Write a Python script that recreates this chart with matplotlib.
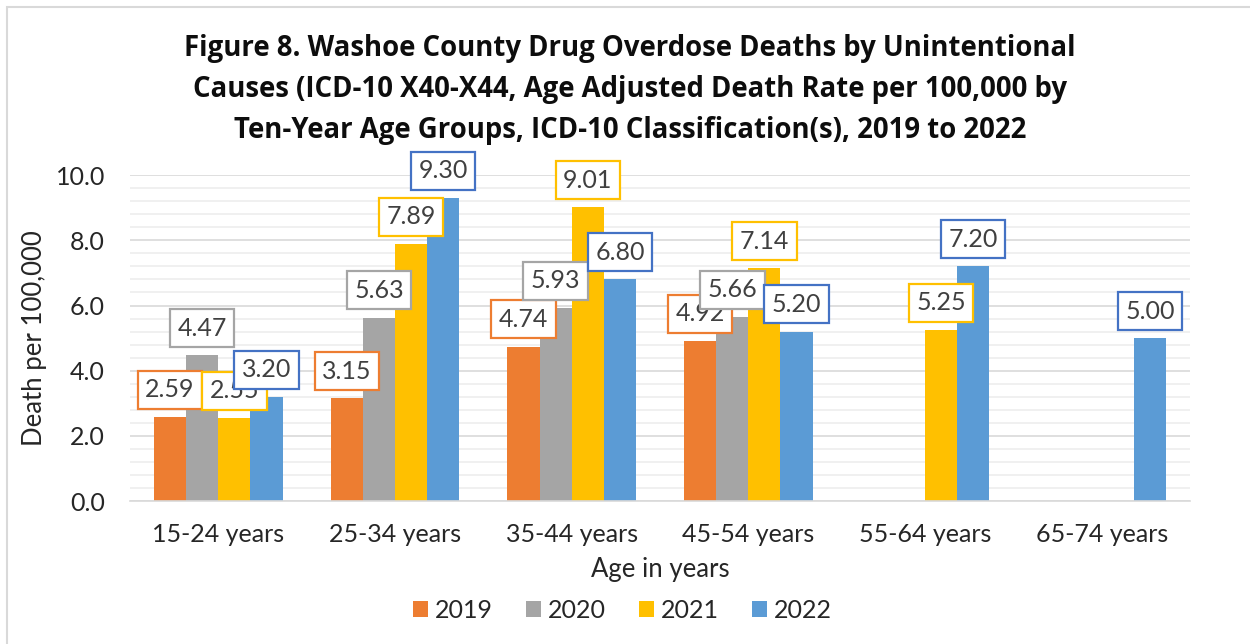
import numpy as np
import matplotlib.pyplot as plt
import matplotlib.patches as mpatches
from matplotlib.ticker import MultipleLocator

groups = ['15-24 years', '25-34 years', '35-44 years', '45-54 years', '55-64 years', '65-74 years']
years = ['2019', '2020', '2021', '2022']
v2019 = [2.59, 3.15, 4.74, 4.92, np.nan, np.nan]
v2020 = [4.47, 5.63, 5.93, 5.66, np.nan, np.nan]
v2021 = [2.55, 7.89, 9.01, 7.14, 5.25, np.nan]
v2022 = [3.20, 9.30, 6.80, 5.20, 7.20, 5.00]

bar_colours = ['#ED7D31', '#A5A5A5', '#FFC000', '#5B9BD5']
box_colours = ['#ED7D31', '#A5A5A5', '#FFC000', '#4472C4']

plt.rcParams['font.family'] = ['Lato', 'DejaVu Sans']

fig = plt.figure(figsize=(12.5, 6.44), dpi=100)
fig.patch.set_facecolor('white')
ax = fig.add_axes([0.104, 0.222, 0.848, 0.506])

x = np.arange(len(groups))
width = 0.182
series = [v2019, v2020, v2021, v2022]

for i, (vals, col) in enumerate(zip(series, bar_colours)):
    ax.bar(x + (i - 1.5) * width, vals, width, color=col, label=years[i], zorder=2)

for i, (vals, bc) in enumerate(zip(series, box_colours)):
    for j, v in enumerate(vals):
        if np.isnan(v):
            continue
        ax.annotate(f'{v:.2f}', (x[j] + (i - 1.5) * width, v), xytext=(0, 19.5),
                    textcoords='offset points', ha='center', va='center',
                    fontsize=18, color='#404040', zorder=5 + i,
                    bbox=dict(boxstyle='square,pad=0.3', facecolor='white',
                              edgecolor=bc, linewidth=1.6))

ax.set_xlim(-0.5, 5.5)
ax.set_ylim(0, 10)
ax.yaxis.set_major_locator(MultipleLocator(2))
ax.yaxis.set_minor_locator(MultipleLocator(0.4))
ax.yaxis.set_major_formatter(plt.FormatStrFormatter('%.1f'))
ax.yaxis.grid(True, which='major', color='#D9D9D9', linewidth=1.2, zorder=0)
ax.yaxis.grid(True, which='minor', color='#EEEEEE', linewidth=1.2, zorder=0)
ax.set_axisbelow(True)
ax.set_xticks(x)
ax.set_xticklabels(groups)
ax.tick_params(axis='both', which='both', length=0, labelsize=18, labelcolor='#262626')
ax.tick_params(axis='x', pad=16)
ax.tick_params(axis='y', pad=18)
for s in ['top', 'right', 'left']:
    ax.spines[s].set_visible(False)
ax.spines['bottom'].set_color('#D9D9D9')
ax.spines['bottom'].set_linewidth(1.2)

ax.set_xlabel('Age in years', fontsize=18.5, color='#262626', labelpad=8)
ax.set_ylabel('Death per 100,000', fontsize=18.5, color='#262626', labelpad=6)

fig.text(0.504, 0.861,
         'Figure 8. Washoe County Drug Overdose Deaths by Unintentional\n'
         'Causes (ICD-10 X40-X44, Age Adjusted Death Rate per 100,000 by\n'
         'Ten-Year Age Groups, ICD-10 Classification(s), 2019 to 2022',
         ha='center', va='center', fontsize=19.8, fontweight='bold',
         family=['Open Sans', 'DejaVu Sans'],
         color='#0D0D0D', linespacing=1.53)

handles = [mpatches.Patch(facecolor=c, label=y) for c, y in zip(bar_colours, years)]
fig.legend(handles=handles, loc='center', bbox_to_anchor=(0.498, 0.052), ncol=4,
           frameon=False, fontsize=18, handlelength=0.6, handleheight=0.6,
           handletextpad=0.3, columnspacing=1.3, labelcolor='#262626')

fig.patches.append(mpatches.Rectangle((7 / 1250, -0.1), 1.2, 1 - 7 / 644 + 0.1,
                                      transform=fig.transFigure, fill=False,
                                      edgecolor='#D9D9D9', linewidth=1.5))

fig.savefig('out.png', dpi=100)
